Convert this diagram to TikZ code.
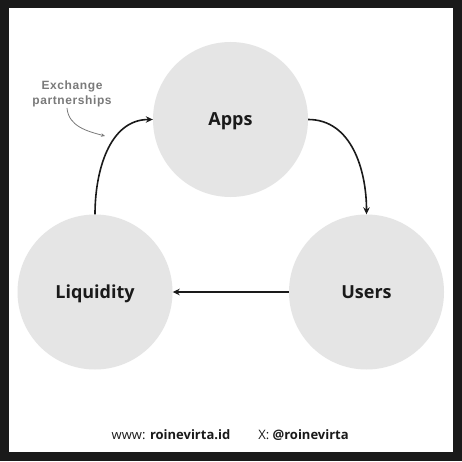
\documentclass[tikz,border=0pt]{standalone}
\usepackage{fontspec}
\setmainfont{Open Sans}
\newfontfamily\notefont{Liberation Sans}[UprightFont={* Bold},LetterSpace=5]
\usetikzlibrary{arrows.meta}
\definecolor{ink}{HTML}{1A1A1A}
\definecolor{hubgray}{HTML}{E5E5E5}
\definecolor{notegray}{HTML}{7A7A7A}
\tikzset{hub/.style={circle,fill=hubgray,minimum size=155pt,inner sep=0pt,text=ink,text height=12.9pt,text depth=0pt,font=\bfseries\fontsize{18}{20}\selectfont}}
\tikzset{flow/.style={draw=ink,line width=1.6pt,-{Stealth[length=7pt,width=6.5pt]}}}
\tikzset{note/.style={align=center,text=notegray,font=\notefont\fontsize{12}{15}\selectfont}}
\tikzset{foot/.style={text=ink,font=\fontsize{13}{15}\selectfont}}

\begin{document}
\begin{tikzpicture}[x=1pt,y=1pt]
      % frame
      \fill[ink] (0,0) rectangle (462,461);
      \fill[white] (9,9) rectangle (452.5,453);
      \node[hub] (A) at (230.5,341.5) {Apps};
      \node[hub] (L) at (95,169) {Liquidity};
      \node[hub] (U) at (366.5,169) {Users};
      \draw[flow] (L.north) to[out=90,in=180] (A.west);
      \draw[flow] (A.east) to[out=0,in=90] (U.north);
      \draw[flow] (U.west) -- (L.east);
      \node[note] (ex) at (72,367.5) {Exchange\\partnerships};
      \coordinate (exs) at (67,353);
      \coordinate (exe) at (105,325);
      \draw[notegray,line width=0.8pt,-{Stealth[length=4pt,width=3.5pt]}] (exs) to[out=-85,in=165] (exe);
      \node[foot] (web) at (171,26) {www: \textbf{roinevirta.id}};
      \node[foot] (x) at (303.5,26) {X: \textbf{@roinevirta}};
\end{tikzpicture}
\end{document}
